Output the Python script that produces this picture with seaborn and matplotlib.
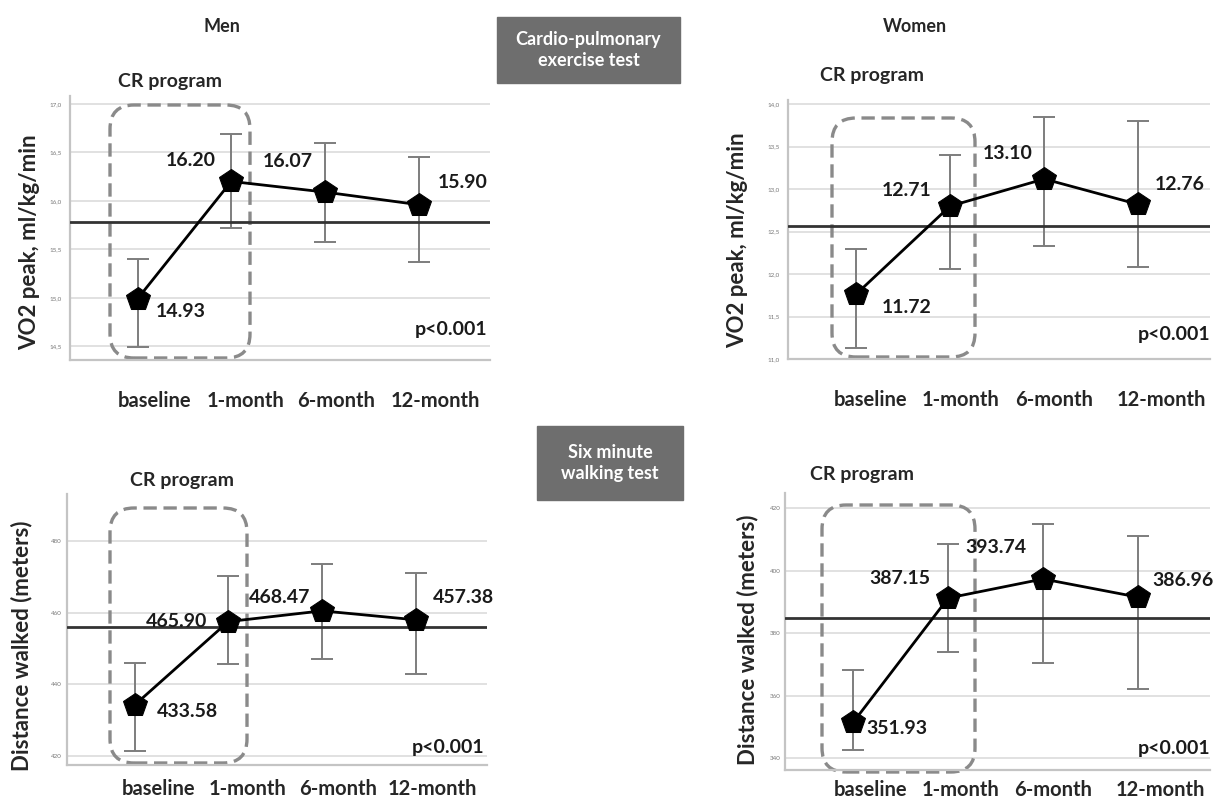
import numpy as np
import pandas as pd
import matplotlib.pyplot as plt
import seaborn as sns
from matplotlib.patches import FancyBboxPatch, Rectangle
from matplotlib.transforms import ScaledTranslation

# data
timepoints = ['baseline', '1-month', '6-month', '12-month']

# VO2 peak, men
men_vo2 = [14.99, 16.20, 16.09, 15.96]
men_vo2_lo = [14.49, 15.72, 15.58, 15.37]
men_vo2_hi = [15.40, 16.69, 16.60, 16.45]
men_vo2_text = ['14.93', '16.20', '16.07', '15.90']
men_vo2_ref = 15.78

# VO2 peak, women
women_vo2 = [11.76, 12.80, 13.12, 12.82]
women_vo2_lo = [11.13, 12.06, 12.33, 12.08]
women_vo2_hi = [12.30, 13.40, 13.85, 13.80]
women_vo2_text = ['11.72', '12.71', '13.10', '12.76']
women_vo2_ref = 12.57

# six minute walk, men
men_6mw = [434.2, 457.5, 460.5, 458.0]
men_6mw_lo = [421.4, 445.8, 447.2, 443.0]
men_6mw_hi = [446.0, 470.3, 473.6, 471.1]
men_6mw_text = ['433.58', '465.90', '468.47', '457.38']
men_6mw_ref = 456.0

# six minute walk, women
women_6mw = [351.5, 391.2, 397.3, 391.5]
women_6mw_lo = [342.6, 373.9, 370.4, 362.0]
women_6mw_hi = [368.2, 408.5, 414.9, 411.0]
women_6mw_text = ['351.93', '387.15', '393.74', '386.96']
women_6mw_ref = 384.8

W, H = 1220, 805
sns.set_theme(style='white')
plt.rcParams['font.family'] = ['Lato', 'DejaVu Sans']
fig = plt.figure(figsize=(W / 100, H / 100), dpi=100)


def px_rect(x0, y0, x1, y1):
    # pixel box (top-left origin) -> figure fraction
    return [x0 / W, 1 - y1 / H, (x1 - x0) / W, (y1 - y0) / H]


def panel(rect, ylim, yticks, fmt, means, lo, hi, texts, offsets, ref, ylabel,
          ylab_pos, p_pos, box, xpad, xshift, ypad=6):
    ax = fig.add_axes(px_rect(*rect))
    x = np.arange(len(timepoints))
    means = np.array(means)
    ax.errorbar(x, means, yerr=[means - np.array(lo), np.array(hi) - means],
                fmt='none', ecolor='#7d7d7d', elinewidth=1.4, capsize=8,
                capthick=1.4, zorder=2)
    sns.lineplot(x=x, y=means, marker='p', markersize=18, color='black',
                 lw=2, markeredgecolor='black', ax=ax, zorder=4)
    ax.axhline(ref, color='#333333', lw=2, zorder=3)
    for xi, yi, t, (dx, dy) in zip(x, means, texts, offsets):
        ax.annotate(t, (xi, yi), xytext=(dx * 0.72, dy * 0.72),
                    textcoords='offset points', ha='center', va='center',
                    fontsize=14, fontweight='bold', color='#1a1a1a')
    ax.set_xlim(-0.72, 3.76)
    ax.set_ylim(*ylim)
    ax.set_yticks(yticks)
    ax.set_yticklabels([fmt(v) for v in yticks], fontsize=4.5, color='#777777')
    ax.tick_params(axis='y', length=0, pad=ypad)
    ax.set_xticks(x)
    ax.set_xticklabels(timepoints, fontsize=14.5, fontweight='bold')
    ax.tick_params(axis='x', length=0, pad=xpad)
    for lab, s in zip(ax.get_xticklabels(), xshift):
        lab.set_transform(lab.get_transform() +
                          ScaledTranslation(s / 100, 0, fig.dpi_scale_trans))
    ax.grid(axis='y', color='#dcdcdc', lw=1.2)
    ax.set_axisbelow(True)
    for s in ['top', 'right']:
        ax.spines[s].set_visible(False)
    for s in ['left', 'bottom']:
        ax.spines[s].set_color('#c4c4c4')
        ax.spines[s].set_linewidth(1.6)
    ax.set_ylabel(ylabel, fontsize=16, fontweight='bold')
    ax.yaxis.set_label_coords(*ylab_pos)
    ax.text(p_pos[0], p_pos[1], 'p<0.001', transform=ax.transAxes, ha='right',
            va='center', fontsize=14, fontweight='bold', color='#1a1a1a')
    # dashed "CR program" frame, given in figure pixels
    ax_w = rect[2] - rect[0]
    ax_h = rect[3] - rect[1]
    bx0 = (box[0] - rect[0]) / ax_w
    bx1 = (box[2] - rect[0]) / ax_w
    by0 = (rect[3] - box[3]) / ax_h
    by1 = (rect[3] - box[1]) / ax_h
    r = 24 / ax_w
    frame = FancyBboxPatch((bx0 + r, by0 + r * ax_w / ax_h),
                           bx1 - bx0 - 2 * r, by1 - by0 - 2 * r * ax_w / ax_h,
                           boxstyle='round,pad=%f' % r,
                           mutation_aspect=ax_w / ax_h,
                           transform=ax.transAxes, fill=False,
                           ec='#8a8a8a', lw=2.4, ls=(0, (4, 2)),
                           clip_on=False, zorder=1)
    ax.add_patch(frame)
    return ax


comma = lambda v: ('%.1f' % v).replace('.', ',')
intf = lambda v: '%d' % v

panel((70, 96, 490, 360), (14.36, 17.08), [14.5, 15.0, 15.5, 16.0, 16.5, 17.0],
      comma, men_vo2, men_vo2_lo, men_vo2_hi, men_vo2_text,
      [(43, -13), (-40, 21), (-37, 31), (44, 22)], men_vo2_ref,
      'VO2 peak, ml/kg/min', (-0.071, 0.447), (0.993, 0.114),
      (110, 105, 250, 358), 22, [17, 14, 11, 17])

panel((788, 100, 1210, 359), (11.0, 14.05),
      [11.0, 11.5, 12.0, 12.5, 13.0, 13.5, 14.0],
      comma, women_vo2, women_vo2_lo, women_vo2_hi, women_vo2_text,
      [(51, -13), (-43, 16), (-37, 25), (41, 20)], women_vo2_ref,
      'VO2 peak, ml/kg/min', (-0.095, 0.46), (1.0, 0.093),
      (832, 118, 975, 357), 22, [15, 11, 10, 23])

panel((67, 494, 487, 765), (417.5, 493.1), [420, 440, 460, 480],
      intf, men_6mw, men_6mw_lo, men_6mw_hi, men_6mw_text,
      [(53, -6), (-52, 0), (-42, 13), (48, 22)], men_6mw_ref,
      'Distance walked (meters)', (-0.083, 0.44), (0.993, 0.066),
      (110, 508, 247, 763), 10, [24, 19, 16, 17], ypad=4)

panel((785, 493, 1210, 770), (336.2, 424.8), [340, 360, 380, 400, 420],
      intf, women_6mw, women_6mw_lo, women_6mw_hi, women_6mw_text,
      [(44, -6), (-48, 20), (-47, 31), (45, 17)], women_6mw_ref,
      'Distance walked (meters)', (-0.062, 0.47), (1.0, 0.079),
      (822, 505, 975, 772), 7, [17, 12, 10, 22], ypad=3)

# headings
fig.text(222 / W, 1 - 27 / H, 'Men', ha='center', va='center', fontsize=13,
         fontweight='bold')
fig.text(915 / W, 1 - 27 / H, 'Women', ha='center', va='center', fontsize=13,
         fontweight='bold')
for cx, cy in [(170, 82), (872, 75), (182, 480), (862, 474)]:
    fig.text(cx / W, 1 - cy / H, 'CR program', ha='center', va='center',
             fontsize=14, fontweight='bold')

# grey section boxes
for (x0, y0, x1, y1), label in [((497, 17, 680, 83), 'Cardio-pulmonary\nexercise test'),
                                ((537, 426, 683, 500), 'Six minute\nwalking test')]:
    fig.patches.append(Rectangle((x0 / W, 1 - y1 / H), (x1 - x0) / W, (y1 - y0) / H,
                                 transform=fig.transFigure, color='#6e6e6e'))
    fig.text((x0 + x1) / 2 / W, 1 - (y0 + y1) / 2 / H, label, ha='center',
             va='center', fontsize=13, fontweight='bold', color='white',
             linespacing=1.35)

fig.savefig('out.png', dpi=100, facecolor='white')
